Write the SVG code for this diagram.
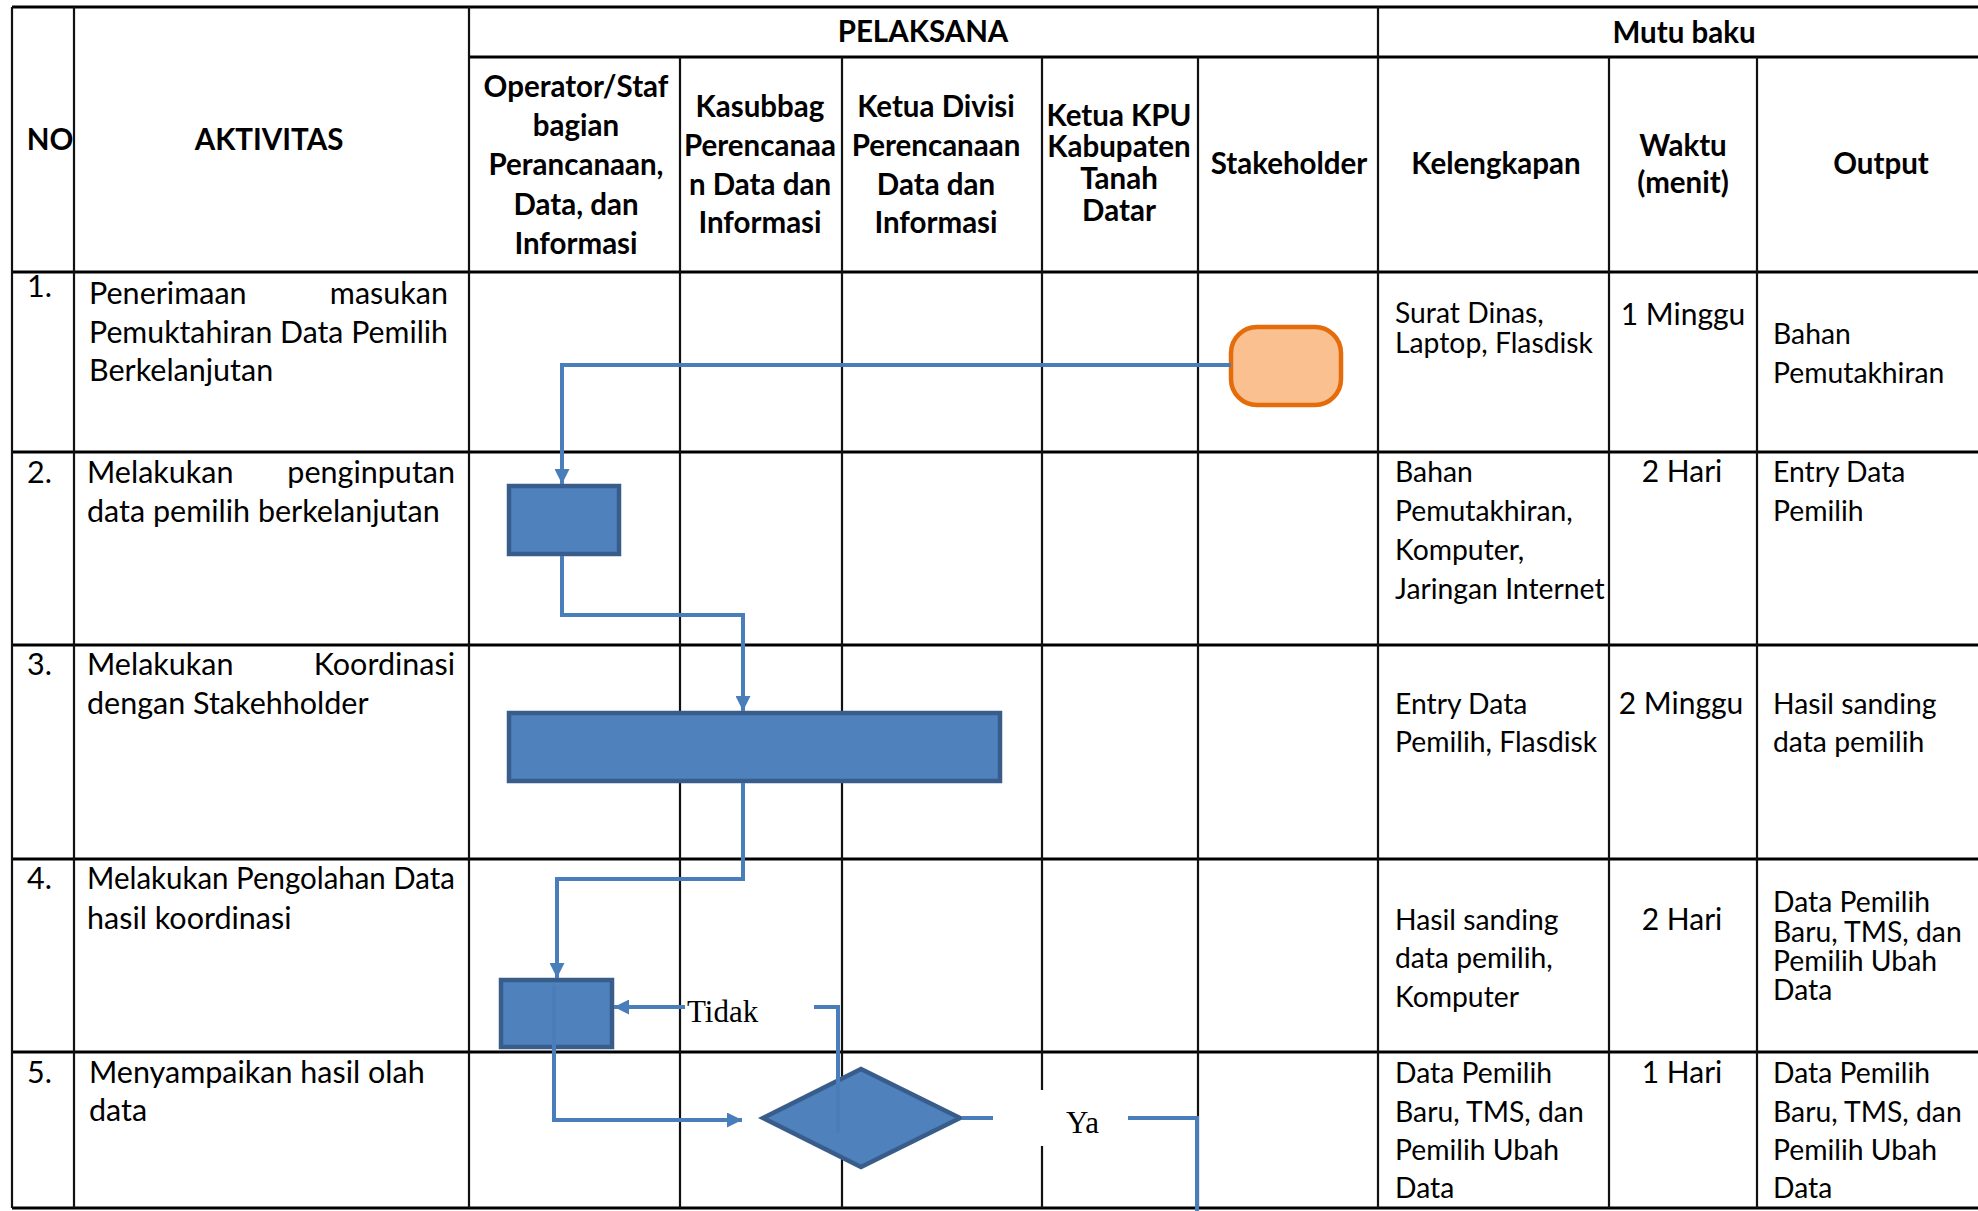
<svg xmlns="http://www.w3.org/2000/svg" width="1978" height="1211" viewBox="0 0 1978 1211">
<style>
.h{font-family:Lato,"Open Sans",sans-serif;font-weight:bold;font-size:29.5px;text-anchor:middle;fill:#000}
.b{font-family:Lato,"Open Sans",sans-serif;font-size:30.5px;fill:#000}
.c{font-family:Lato,"Open Sans",sans-serif;font-size:28.3px;fill:#000}
.w{font-family:Lato,"Open Sans",sans-serif;font-size:30px;fill:#000;text-anchor:middle}
.e{text-anchor:end}
.lbl{font-family:"Liberation Serif",serif;font-size:31px;fill:#000}
.gh{stroke:#000;stroke-width:3;fill:none}
.gv{stroke:#111;stroke-width:2.2;fill:none}
.proc{fill:#4F81BD;stroke:#385D8A;stroke-width:4.5}
.term{fill:#FAC090;stroke:#E46C0A;stroke-width:4.5}
.con{fill:none;stroke:#4A7EBB;stroke-width:4}
</style>
<defs>
<marker id="arr" viewBox="0 0 10 10" refX="10" refY="5" markerWidth="15" markerHeight="15" markerUnits="userSpaceOnUse" orient="auto">
<path d="M0,0 L10,5 L0,10 z" fill="#4A7EBB"/>
</marker>
</defs>
<rect width="1978" height="1211" fill="#fff"/>
<g id="grid">
<path class="gh" d="M12,7 H1978 M469,57 H1978 M12,272 H1978 M12,452 H1978 M12,645 H1978 M12,859 H1978 M12,1052 H1978 M12,1208 H1978"/>
<path class="gv" d="M12,7 V1208 M74,7 V1208 M469,7 V1208 M1378,7 V1208 M680,57 V1208 M842,57 V1208 M1042,57 V1208 M1198,57 V1208 M1609,57 V1208 M1757,57 V1208"/>
</g>
<g id="header">
<text class="h" x="923" y="42">PELAKSANA</text>
<text class="h" x="1684" y="43">Mutu baku</text>
<text class="h" x="50" y="150">NO</text>
<text class="h" x="269" y="150">AKTIVITAS</text>
<text class="h"><tspan x="576" y="97">Operator/Staf</tspan><tspan x="576" y="136">bagian</tspan><tspan x="576" y="175">Perancanaan,</tspan><tspan x="576" y="215">Data, dan</tspan><tspan x="576" y="254">Informasi</tspan></text>
<text class="h"><tspan x="760" y="117">Kasubbag</tspan><tspan x="760" y="156">Perencanaa</tspan><tspan x="760" y="195">n Data dan</tspan><tspan x="760" y="233">Informasi</tspan></text>
<text class="h"><tspan x="936" y="117">Ketua Divisi</tspan><tspan x="936" y="156">Perencanaan</tspan><tspan x="936" y="195">Data dan</tspan><tspan x="936" y="233">Informasi</tspan></text>
<text class="h"><tspan x="1119" y="126">Ketua KPU</tspan><tspan x="1119" y="157">Kabupaten</tspan><tspan x="1119" y="189">Tanah</tspan><tspan x="1119" y="221">Datar</tspan></text>
<text class="h" x="1289" y="174">Stakeholder</text>
<text class="h" x="1496" y="174">Kelengkapan</text>
<text class="h"><tspan x="1683" y="156">Waktu</tspan><tspan x="1683" y="193">(menit)</tspan></text>
<text class="h" x="1881" y="174">Output</text>
</g>
<g id="rows">
<text class="b" x="27" y="297">1.</text>
<text class="b" x="89" y="304">Penerimaan</text>
<text class="b e" x="448" y="304">masukan</text>
<text class="b" x="89" y="343" textLength="359" lengthAdjust="spacingAndGlyphs">Pemuktahiran Data Pemilih</text>
<text class="b" x="89" y="381">Berkelanjutan</text>
<text class="b" x="27" y="483">2.</text>
<text class="b" x="87" y="483">Melakukan</text>
<text class="b e" x="455" y="483">penginputan</text>
<text class="b" x="87" y="522">data pemilih berkelanjutan</text>
<text class="b" x="27" y="675">3.</text>
<text class="b" x="87" y="675">Melakukan</text>
<text class="b e" x="455" y="675">Koordinasi</text>
<text class="b" x="87" y="714">dengan Stakehholder</text>
<text class="b" x="27" y="889">4.</text>
<text class="b" x="87" y="889" textLength="368" lengthAdjust="spacingAndGlyphs">Melakukan Pengolahan Data</text>
<text class="b" x="87" y="929">hasil koordinasi</text>
<text class="b" x="27" y="1083">5.</text>
<text class="b" x="89" y="1083">Menyampaikan hasil olah</text>
<text class="b" x="89" y="1121">data</text>
</g>
<g id="mutu">
<text class="c"><tspan x="1395" y="323">Surat Dinas,</tspan><tspan x="1395" y="353">Laptop, Flasdisk</tspan></text>
<text class="w" x="1683" y="325">1 Minggu</text>
<text class="c"><tspan x="1773" y="344">Bahan</tspan><tspan x="1773" y="383">Pemutakhiran</tspan></text>
<text class="c"><tspan x="1395" y="482">Bahan</tspan><tspan x="1395" y="521">Pemutakhiran,</tspan><tspan x="1395" y="560">Komputer,</tspan><tspan x="1395" y="599">Jaringan Internet</tspan></text>
<text class="w" x="1682" y="482">2 Hari</text>
<text class="c"><tspan x="1773" y="482">Entry Data</tspan><tspan x="1773" y="521">Pemilih</tspan></text>
<text class="c"><tspan x="1395" y="714">Entry Data</tspan><tspan x="1395" y="752">Pemilih, Flasdisk</tspan></text>
<text class="w" x="1681" y="714">2 Minggu</text>
<text class="c"><tspan x="1773" y="714">Hasil sanding</tspan><tspan x="1773" y="752">data pemilih</tspan></text>
<text class="c"><tspan x="1395" y="930">Hasil sanding</tspan><tspan x="1395" y="968">data pemilih,</tspan><tspan x="1395" y="1007">Komputer</tspan></text>
<text class="w" x="1682" y="930">2 Hari</text>
<text class="c"><tspan x="1773" y="912">Data Pemilih</tspan><tspan x="1773" y="942">Baru, TMS, dan</tspan><tspan x="1773" y="971">Pemilih Ubah</tspan><tspan x="1773" y="1000">Data</tspan></text>
<text class="c"><tspan x="1395" y="1083">Data Pemilih</tspan><tspan x="1395" y="1122">Baru, TMS, dan</tspan><tspan x="1395" y="1160">Pemilih Ubah</tspan><tspan x="1395" y="1198">Data</tspan></text>
<text class="w" x="1682" y="1083">1 Hari</text>
<text class="c"><tspan x="1773" y="1083">Data Pemilih</tspan><tspan x="1773" y="1122">Baru, TMS, dan</tspan><tspan x="1773" y="1160">Pemilih Ubah</tspan><tspan x="1773" y="1198">Data</tspan></text>
</g>
<g id="node-start"><rect class="term" x="1231" y="327" width="110" height="78" rx="26"/></g>
<g id="node-input"><rect class="proc" x="509" y="486" width="110" height="68"/></g>
<g id="node-koordinasi"><rect class="proc" x="509" y="713" width="491" height="68"/></g>
<g id="node-olah"><rect class="proc" x="501" y="980" width="111" height="67"/></g>
<g id="node-decision"><polygon class="proc" points="763,1118 861,1069 960,1118 861,1167"/></g>
<g id="labels">
<rect x="993" y="1090" width="135" height="56" fill="#fff"/>
<text class="lbl" x="687" y="1022">Tidak</text>
<text class="lbl" x="1066" y="1133">Ya</text>
</g>
<g id="connectors">
<path class="con" d="M1231,365 H562 V484" marker-end="url(#arr)"/>
<path class="con" d="M562,556 V615 H743 V711" marker-end="url(#arr)"/>
<path class="con" d="M743,783 V879 H557 V978" marker-end="url(#arr)"/>
<path class="con" d="M554,985 V1120 H742" marker-end="url(#arr)"/>
<path class="con" d="M838,1133 V1007 H814"/>
<path class="con" d="M685,1007 H614" marker-end="url(#arr)"/>
<path class="con" d="M962,1118 H993"/>
<path class="con" d="M1128,1118 H1197 V1211"/>
</g>
</svg>
